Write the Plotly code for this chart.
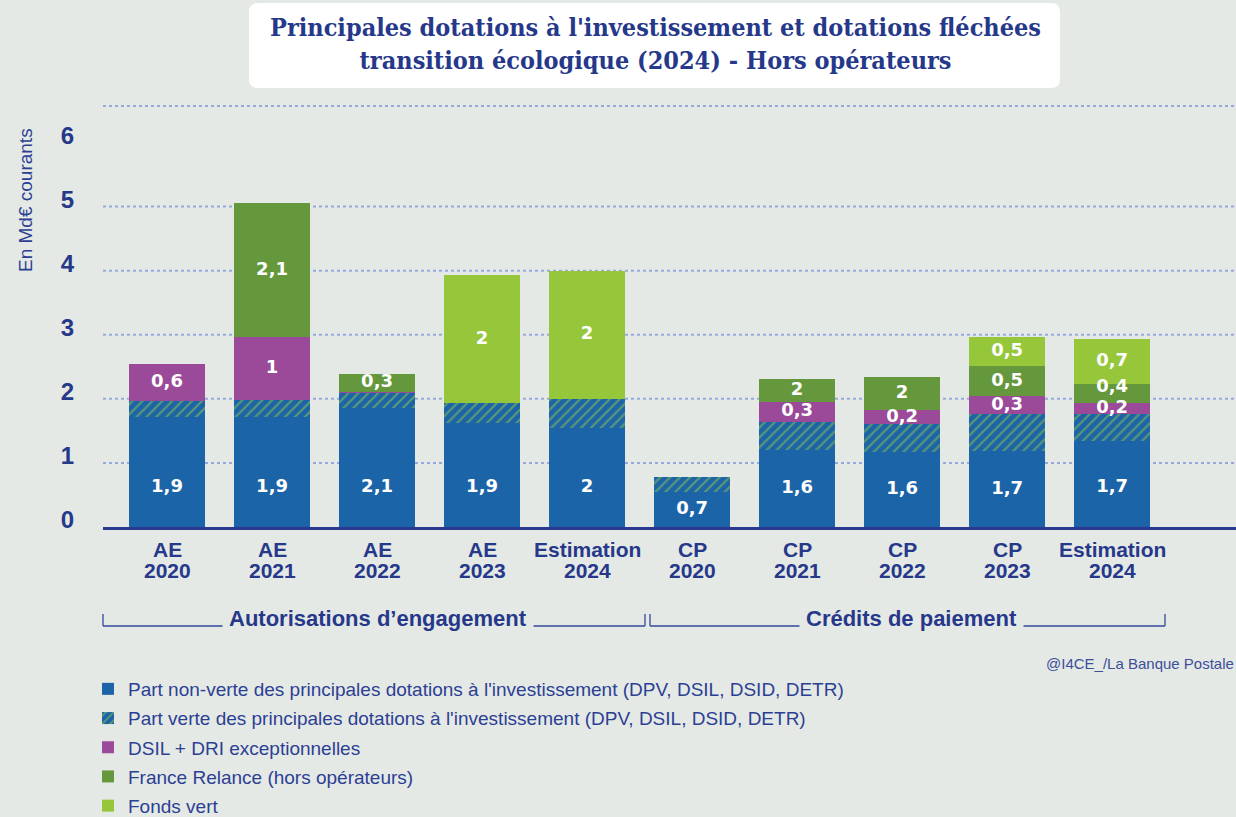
import plotly.graph_objects as go

# ---------------- data ----------------
cat_line1 = ["AE", "AE", "AE", "AE", "Estimation", "CP", "CP", "CP", "CP", "Estimation"]
cat_line2 = ["2020", "2021", "2022", "2023", "2024", "2020", "2021", "2022", "2023", "2024"]

non_verte = [1.72, 1.72, 1.86, 1.63, 1.55, 0.55, 1.20, 1.17, 1.18, 1.34]
part_verte = [0.245, 0.26, 0.234, 0.30, 0.45, 0.225, 0.44, 0.43, 0.58, 0.43]
dsil_dri = [0.58, 0.99, 0.02, 0, 0, 0, 0.31, 0.22, 0.28, 0.16]
france_relance = [0, 2.08, 0.28, 0, 0, 0, 0.355, 0.52, 0.47, 0.30]
fonds_vert = [0, 0, 0, 2.0, 2.0, 0, 0, 0, 0.45, 0.70]

lbl_non_verte = ["1,9", "1,9", "2,1", "1,9", "2", "0,7", "1,6", "1,6", "1,7", "1,7"]
lbl_dsil = ["0,6", "1", "", "", "", "", "0,3", "0,2", "0,3", "0,2"]
lbl_relance = ["", "2,1", "0,3", "", "", "", "2", "2", "0,5", "0,4"]
lbl_fonds = ["", "", "", "2", "2", "", "", "", "0,5", "0,7"]

series_names = [
    "Part non-verte des principales dotations à l'investissement (DPV, DSIL, DSID, DETR)",
    "Part verte des principales dotations à l'investissement (DPV, DSIL, DSID, DETR)",
    "DSIL + DRI exceptionnelles",
    "France Relance (hors opérateurs)",
    "Fonds vert",
]
group_labels = ["Autorisations d’engagement", "Crédits de paiement"]
y_ticks = [0, 1, 2, 3, 4, 5, 6]
grid_vals = [1, 2, 3, 4, 5, 6.57]

title_text = ("Principales dotations à l'investissement et dotations fléchées<br>"
              "transition écologique (2024) - Hors opérateurs")
source_text = "@I4CE_/La Banque Postale"
y_title = "En Md€ courants"

# ---------------- style ----------------
W, H = 1236, 817
L, R, T, B = 103, 0, 104, 290
PW, PH = W - L - R, H - T - B
X_RANGE = [-0.61, 10.18]
Y_MAX = 6.6

BG = "#e4e9e5"
NAVY = "#26388a"
C_BLUE = "#1c64a8"
C_GREEN_HATCH = "#98cb42"
C_PURPLE = "#9a4a98"
C_RELANCE = "#65983d"
C_FONDS = "#96c63a"
FONT = "Liberation Sans, Arial, sans-serif"
MIN_SEP = 0.32  # minimal vertical gap between stacked labels (data units)


def px_x(p):
    return (p - L) / PW


def px_y(p):
    return (H - B - p) / PH


x = list(range(len(cat_line1)))
BW = 0.724

fig = go.Figure()
fig.add_trace(go.Bar(x=x, y=non_verte, name=series_names[0], width=BW, legendgroup="g1",
                     marker=dict(color=C_BLUE, line=dict(width=0))))
fig.add_trace(go.Bar(x=x, y=part_verte, name=series_names[1], width=BW, legendgroup="g2",
                     marker=dict(color=C_BLUE, line=dict(width=0),
                                 pattern=dict(shape="/", bgcolor=C_BLUE, fgcolor=C_GREEN_HATCH,
                                              size=7, solidity=0.32))))
fig.add_trace(go.Bar(x=x, y=dsil_dri, name=series_names[2], width=BW, legendgroup="g3",
                     marker=dict(color=C_PURPLE, line=dict(width=0))))
fig.add_trace(go.Bar(x=x, y=france_relance, name=series_names[3], width=BW, legendgroup="g4",
                     marker=dict(color=C_RELANCE, line=dict(width=0))))
fig.add_trace(go.Bar(x=x, y=fonds_vert, name=series_names[4], width=BW, legendgroup="g5",
                     marker=dict(color=C_FONDS, line=dict(width=0))))

# ---- segment labels ----
lx, ly, lt = [], [], []
for i in x:
    b1 = non_verte[i] + part_verte[i]
    b2 = b1 + dsil_dri[i]
    b3 = b2 + france_relance[i]
    b4 = b3 + fonds_vert[i]
    lx.append(i); ly.append(min(0.62, non_verte[i] / 2)); lt.append(lbl_non_verte[i])
    upper = []
    if lbl_dsil[i]:
        upper.append(((b1 + b2) / 2, lbl_dsil[i]))
    if lbl_relance[i]:
        upper.append(((b2 + b3) / 2, lbl_relance[i]))
    if lbl_fonds[i]:
        upper.append(((b3 + b4) / 2, lbl_fonds[i]))
    prev = None
    for yy, tt in upper:
        if prev is not None and yy - prev < MIN_SEP:
            yy = prev + MIN_SEP
        lx.append(i); ly.append(yy); lt.append(tt)
        prev = yy

fig.add_trace(go.Scatter(x=lx, y=ly, text=lt, mode="text", showlegend=False, hoverinfo="skip",
                         textfont=dict(family="DejaVu Sans", size=18, color="white", weight="bold")))

shapes = []
# gridlines
for g in grid_vals:
    shapes.append(dict(type="line", xref="x", yref="y", x0=X_RANGE[0], x1=X_RANGE[1], y0=g, y1=g,
                       line=dict(color="#97a9dc", width=2, dash="dot"), layer="below"))

# title box (rounded)
bx0, bx1, by0, by1, r = 249, 1060, 3, 88, 9
path = (f"M {px_x(bx0 + r)} {px_y(by0)} L {px_x(bx1 - r)} {px_y(by0)} "
        f"Q {px_x(bx1)} {px_y(by0)} {px_x(bx1)} {px_y(by0 + r)} "
        f"L {px_x(bx1)} {px_y(by1 - r)} Q {px_x(bx1)} {px_y(by1)} {px_x(bx1 - r)} {px_y(by1)} "
        f"L {px_x(bx0 + r)} {px_y(by1)} Q {px_x(bx0)} {px_y(by1)} {px_x(bx0)} {px_y(by1 - r)} "
        f"L {px_x(bx0)} {px_y(by0 + r)} Q {px_x(bx0)} {px_y(by0)} {px_x(bx0 + r)} {px_y(by0)} Z")
shapes.append(dict(type="path", xref="paper", yref="paper", path=path,
                   fillcolor="white", line=dict(width=0), layer="below"))

# brackets
brackets = [(103, 645), (650, 1165)]
for (a, b) in brackets:
    yl = px_y(626)
    yt = px_y(614)
    shapes.append(dict(type="line", xref="paper", yref="paper", x0=px_x(a), x1=px_x(b), y0=yl, y1=yl,
                       line=dict(color="#34479a", width=1.3)))
    for p in (a, b):
        shapes.append(dict(type="line", xref="paper", yref="paper", x0=px_x(p), x1=px_x(p), y0=yl, y1=yt,
                           line=dict(color="#34479a", width=1.3)))

annotations = []
annotations.append(dict(text="<b>" + title_text + "</b>", x=px_x(655), y=px_y(44), xref="paper", yref="paper",
                        xanchor="center", yanchor="middle", showarrow=False,
                        font=dict(family="DejaVu Serif Condensed, Liberation Serif, serif", size=25, color=NAVY)))
annotations.append(dict(text=y_title, x=px_x(25), y=px_y(200), xref="paper", yref="paper", textangle=-90,
                        xanchor="center", yanchor="middle", showarrow=False,
                        font=dict(family=FONT, size=19, color="#2c3f94")))
annotations.append(dict(text=source_text, x=px_x(1236), y=px_y(663), xref="paper", yref="paper",
                        xanchor="right", yanchor="middle", showarrow=False,
                        font=dict(family=FONT, size=15, color="#3d4f99")))
for i in x:
    annotations.append(dict(text="<b>" + cat_line1[i] + "</b>", x=i, xref="x", y=px_y(549), yref="paper",
                            xanchor="center", yanchor="middle", showarrow=False,
                            font=dict(family=FONT, size=21, color=NAVY)))
    annotations.append(dict(text="<b>" + cat_line2[i] + "</b>", x=i, xref="x", y=px_y(570), yref="paper",
                            xanchor="center", yanchor="middle", showarrow=False,
                            font=dict(family=FONT, size=21, color=NAVY)))
for (a, b), g in zip(brackets, group_labels):
    annotations.append(dict(text="<b>" + g + "</b>", x=px_x((a + b) / 2 + 4), y=px_y(618), xref="paper",
                            yref="paper", xanchor="center", yanchor="middle", showarrow=False,
                            bgcolor=BG, borderpad=6,
                            font=dict(family=FONT, size=22, color=NAVY)))

fig.update_layout(
    width=W, height=H,
    margin=dict(l=L, r=R, t=T, b=B, autoexpand=False),
    paper_bgcolor=BG, plot_bgcolor=BG,
    barmode="stack", bargap=0,
    showlegend=True,
    legend=dict(x=px_x(88), y=px_y(670), xanchor="left", yanchor="top", traceorder="grouped",
                orientation="v", bgcolor="rgba(0,0,0,0)", tracegroupgap=1.5,
                font=dict(family=FONT, size=19, color="#2c3f94")),
    shapes=shapes,
    annotations=annotations,
    xaxis=dict(range=X_RANGE, showticklabels=False, showgrid=False, zeroline=False,
               showline=True, linecolor="#2b3990", linewidth=3, fixedrange=True),
    yaxis=dict(range=[0, Y_MAX], tickvals=y_ticks, ticktext=[str(v) for v in y_ticks],
               showgrid=False, zeroline=False, showline=False, ticks="",
               ticklabelshift=-7, ticklabelstandoff=28, automargin=False,
               tickfont=dict(family=FONT, size=24, color=NAVY, weight="bold"), fixedrange=True),
)

fig.write_html("out.html", config={"displayModeBar": False},
               post_script="document.body.style.margin='0px';document.body.style.overflow='hidden';")
